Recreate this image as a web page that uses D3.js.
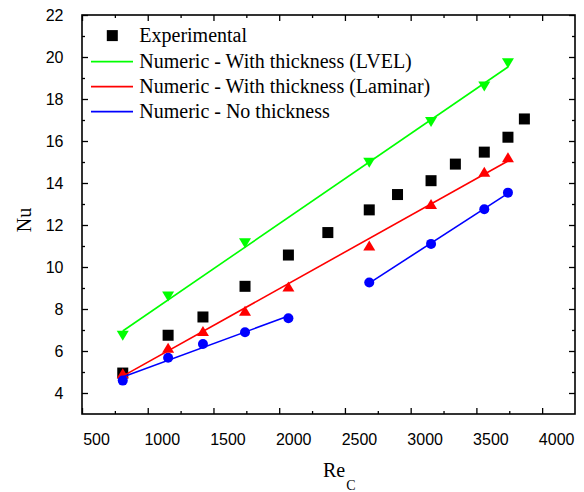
<!DOCTYPE html>
<html><head><meta charset="utf-8">
<script src="https://cdn.jsdelivr.net/npm/d3@7"></script>
<style>body{margin:0;background:#fff}</style>
</head><body><svg id="c" width="584" height="492"></svg>
<script>
// ---- data ----
const expRe = [810, 1155, 1420, 1740, 2070, 2370, 2685, 2900, 3155, 3340, 3560, 3740, 3865];
const expNu = [4.95, 6.75, 7.62, 9.08, 10.57, 11.64, 12.72, 13.45, 14.11, 14.9, 15.47, 16.18, 17.05];

const lvelRe = [810, 1155, 1740, 2685, 3155, 3560, 3740];
const lvelNu = [6.73, 8.59, 11.13, 14.97, 16.9, 18.6, 19.7];

const lamRe = [810, 1155, 1420, 1740, 2070, 2685, 3155, 3560, 3740];
const lamNu = [4.94, 6.16, 6.95, 7.92, 9.07, 11.02, 13.0, 14.54, 15.23];

const noThickRe1 = [810, 1155, 1420, 1740, 2070];
const noThickNu1 = [4.59, 5.68, 6.33, 6.89, 7.56];
const noThickRe2 = [2685, 3155, 3560, 3740];
const noThickNu2 = [9.26, 11.1, 12.75, 13.54];

const xMajor = [500, 1000, 1500, 2000, 2500, 3000, 3500, 4000];
const xMinor = [750, 1250, 1750, 2250, 2750, 3250, 3750];
const yMajor = [4, 6, 8, 10, 12, 14, 16, 18, 20, 22];
const yMinor = [5, 7, 9, 11, 13, 15, 17, 19, 21];

const legendLabels = ["Experimental", "Numeric - With thickness (LVEL)", "Numeric - With thickness (Laminar)", "Numeric - No thickness"];

// ---- layout ----
const L = 82, R = 575, T = 15, B = 414;
const svg = d3.select("#c");
const x = d3.scaleLinear().domain([500, 4250]).range([L, R]);
const y = d3.scaleLinear().domain([3, 22]).range([B, T]);

const GREEN = "#00ff00", RED = "#ff0000", BLUE = "#0000ff";
const tickFont = "'Liberation Sans', Arial, sans-serif";
const serif = "'Liberation Serif', 'Times New Roman', serif";

function styleAxis(g) {
  g.select(".domain").remove();
  g.selectAll("line").attr("stroke", "#000").attr("stroke-width", 1.3);
}

// bottom axis major (labels shifted as in reference)
const gb = svg.append("g").attr("transform", `translate(0,${B})`)
  .call(d3.axisBottom(x).tickValues(xMajor).tickSize(-6).tickPadding(19.5).tickFormat(d3.format("d")));
styleAxis(gb);
gb.selectAll("text").attr("font-family", tickFont).attr("font-size", 16).attr("fill", "#000").attr("dx", 14);
const gbm = svg.append("g").attr("transform", `translate(0,${B})`)
  .call(d3.axisBottom(x).tickValues(xMinor).tickSize(-3).tickFormat(""));
styleAxis(gbm);
// top axis
const gt = svg.append("g").attr("transform", `translate(0,${T})`)
  .call(d3.axisTop(x).tickValues(xMajor).tickSize(-6).tickFormat(""));
styleAxis(gt);
const gtm = svg.append("g").attr("transform", `translate(0,${T})`)
  .call(d3.axisTop(x).tickValues(xMinor).tickSize(-3).tickFormat(""));
styleAxis(gtm);
// left axis
const gl = svg.append("g").attr("transform", `translate(${L},0)`)
  .call(d3.axisLeft(y).tickValues(yMajor).tickSize(-6).tickPadding(18.5).tickFormat(d3.format("d")));
styleAxis(gl);
gl.selectAll("text").attr("font-family", tickFont).attr("font-size", 16).attr("fill", "#000");
const glm = svg.append("g").attr("transform", `translate(${L},0)`)
  .call(d3.axisLeft(y).tickValues(yMinor).tickSize(-3).tickFormat(""));
styleAxis(glm);
// right axis
const gr = svg.append("g").attr("transform", `translate(${R},0)`)
  .call(d3.axisRight(y).tickValues(yMajor).tickSize(-6).tickFormat(""));
styleAxis(gr);
const grm = svg.append("g").attr("transform", `translate(${R},0)`)
  .call(d3.axisRight(y).tickValues(yMinor).tickSize(-3).tickFormat(""));
styleAxis(grm);

// frame
svg.append("rect").attr("x", L).attr("y", T).attr("width", R - L).attr("height", B - T)
  .attr("fill", "none").attr("stroke", "#000").attr("stroke-width", 1.6);

// axis titles
svg.append("text").attr("transform", `translate(31,220) rotate(-90)`)
  .attr("text-anchor", "middle").attr("font-family", serif).attr("font-size", 20).text("Nu");
const xt = svg.append("text").attr("x", 323).attr("y", 477).attr("font-family", serif).attr("font-size", 20);
xt.append("tspan").text("Re");
xt.append("tspan").attr("font-size", 14).attr("dy", 13).attr("dx", 1).text("C");

// ---- helpers ----
function fit(xs, ys) {
  const mx = d3.mean(xs), my = d3.mean(ys);
  let sxy = 0, sxx = 0;
  xs.forEach((v, i) => { sxy += (v - mx) * (ys[i] - my); sxx += (v - mx) * (v - mx); });
  const b = sxy / sxx, a = my - b * mx;
  const x0 = d3.min(xs), x1 = d3.max(xs);
  return [[x0, a + b * x0], [x1, a + b * x1]];
}
const line = d3.line().x(d => x(d[0])).y(d => y(d[1]));
function drawFit(xs, ys, color) {
  svg.append("path").attr("d", line(fit(xs, ys))).attr("fill", "none")
    .attr("stroke", color).attr("stroke-width", 1.6);
}
function triPath(cx, cy, up) {
  const w = 6, h = 5;
  return up
    ? `M${cx - w},${cy + h}L${cx + w},${cy + h}L${cx},${cy - h}Z`
    : `M${cx - w},${cy - h}L${cx + w},${cy - h}L${cx},${cy + h}Z`;
}
const zip = (a, b) => a.map((v, i) => [v, b[i]]);

// experimental squares
svg.append("g").selectAll("rect").data(zip(expRe, expNu)).join("rect")
  .attr("x", d => x(d[0]) - 5.5).attr("y", d => y(d[1]) - 5.5)
  .attr("width", 11).attr("height", 11).attr("fill", "#000");

// LVEL
drawFit(lvelRe, lvelNu, GREEN);
svg.append("g").selectAll("path").data(zip(lvelRe, lvelNu)).join("path")
  .attr("d", d => triPath(x(d[0]), y(d[1]), false)).attr("fill", GREEN);

// Laminar
drawFit(lamRe, lamNu, RED);
svg.append("g").selectAll("path").data(zip(lamRe, lamNu)).join("path")
  .attr("d", d => triPath(x(d[0]), y(d[1]), true)).attr("fill", RED);

// No thickness
drawFit(noThickRe1, noThickNu1, BLUE);
drawFit(noThickRe2, noThickNu2, BLUE);
svg.append("g").selectAll("circle").data(zip(noThickRe1.concat(noThickRe2), noThickNu1.concat(noThickNu2))).join("circle")
  .attr("cx", d => x(d[0])).attr("cy", d => y(d[1])).attr("r", 5).attr("fill", BLUE);

// ---- legend ----
const legBase = [42.3, 68.3, 93.3, 118.3];
const leg = svg.append("g");
leg.append("rect").attr("x", 112.3 - 5.5).attr("y", legBase[0] - 6.7 - 5.5).attr("width", 11).attr("height", 11).attr("fill", "#000");
[GREEN, RED, BLUE].forEach((c, i) => {
  leg.append("line").attr("x1", 91).attr("x2", 133).attr("y1", legBase[i + 1] - 6.7).attr("y2", legBase[i + 1] - 6.7)
    .attr("stroke", c).attr("stroke-width", 1.6);
});
legendLabels.forEach((t, i) => {
  leg.append("text").attr("x", 139.3).attr("y", legBase[i]).attr("font-family", serif).attr("font-size", 20).text(t);
});
</script>
</body></html>
